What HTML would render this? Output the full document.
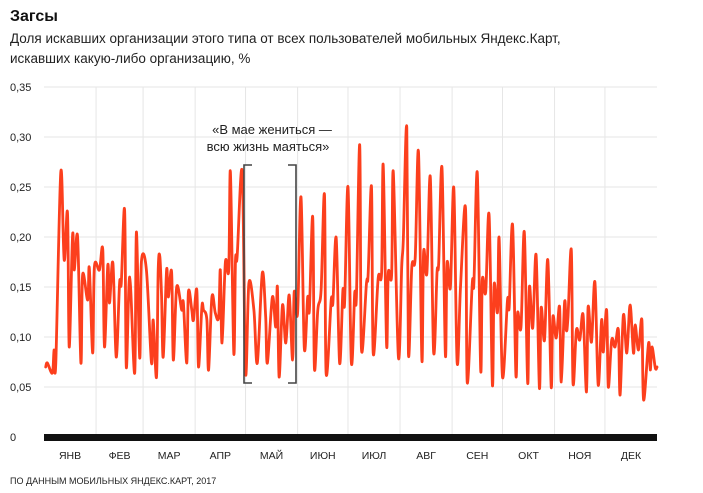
<!DOCTYPE html>
<html><head><meta charset="utf-8"><style>
body{margin:0;background:#fff;width:703px;height:493px;overflow:hidden;font-family:"Liberation Sans",sans-serif}
svg{display:block}
</style></head><body>
<svg id="chart" width="703" height="493" xmlns="http://www.w3.org/2000/svg">
<text x="10" y="21" font-size="16" font-weight="bold" fill="#111">Загсы</text>
<text x="10" y="43" font-size="13.5" fill="#222">Доля искавших организации этого типа от всех пользователей мобильных Яндекс.Карт,</text>
<text x="10" y="63" font-size="13.5" fill="#222">искавших какую-либо организацию, %</text>
<g id="grid"></g>
<g id="axes"></g>
<path id="line" fill="none" stroke="#fc3f1d" stroke-width="2.8" stroke-linejoin="round" stroke-linecap="round"/>
<g>
<text x="272" y="134" font-size="13" fill="#222" text-anchor="middle">«В мае жениться —</text>
<text x="268" y="151" font-size="13" fill="#222" text-anchor="middle">всю жизнь маяться»</text>
<path d="M252,165 H244 V383 H252" fill="none" stroke="#444" stroke-width="1.6"/>
<path d="M288,165 H296 V383 H288" fill="none" stroke="#444" stroke-width="1.6"/>
</g>
<text x="10" y="484" font-size="9" fill="#222">ПО ДАННЫМ МОБИЛЬНЫХ ЯНДЕКС.КАРТ, 2017</text>
</svg>
<script>
const days=[1,2,5,6,7,10,12,14,15,17,18,20,22,23,26,27,29,30,33,35,36,38,39,41,43,45,46,48,49,51,54,55,57,58,61,64,65,67,68,69,70,71,73,74,76,77,79,82,83,85,86,88,89,91,92,94,95,97,98,100,102,104,105,106,108,110,111,113,114,115,118,120,122,125,127,130,132,133,136,138,139,140,142,144,146,148,149,151,153,155,157,158,160,161,163,165,167,168,171,172,174,176,178,179,181,183,185,186,188,189,192,193,195,196,199,201,202,204,205,207,208,211,213,214,216,217,219,221,223,225,226,228,230,232,234,235,237,239,240,242,244,246,248,251,252,255,256,258,260,261,263,265,267,268,270,271,273,276,277,279,281,282,284,286,288,289,291,293,295,296,298,300,302,303,305,307,308,310,311,312,314,315,317,319,321,323,324,326,328,330,332,333,335,336,338,340,342,343,345,347,349,351,352,354,356,357,360,361,362,364,365];
const values=[0.070,0.074,0.064,0.087,0.074,0.265,0.177,0.224,0.090,0.202,0.167,0.200,0.074,0.162,0.137,0.169,0.084,0.170,0.167,0.187,0.090,0.172,0.134,0.174,0.080,0.154,0.154,0.227,0.070,0.160,0.064,0.205,0.079,0.175,0.167,0.074,0.117,0.060,0.167,0.180,0.140,0.080,0.167,0.140,0.165,0.077,0.150,0.127,0.134,0.074,0.145,0.127,0.117,0.147,0.070,0.130,0.127,0.117,0.067,0.140,0.124,0.120,0.167,0.094,0.175,0.167,0.265,0.084,0.177,0.180,0.265,0.064,0.154,0.127,0.074,0.164,0.120,0.074,0.140,0.110,0.150,0.060,0.132,0.094,0.142,0.077,0.145,0.124,0.240,0.089,0.140,0.127,0.220,0.069,0.127,0.147,0.242,0.064,0.137,0.134,0.199,0.074,0.147,0.134,0.250,0.075,0.144,0.140,0.292,0.089,0.154,0.162,0.250,0.084,0.159,0.164,0.272,0.092,0.164,0.162,0.265,0.080,0.170,0.200,0.309,0.084,0.170,0.179,0.285,0.077,0.185,0.164,0.260,0.085,0.164,0.174,0.269,0.082,0.174,0.150,0.249,0.075,0.150,0.229,0.055,0.154,0.154,0.264,0.067,0.157,0.145,0.222,0.052,0.152,0.125,0.199,0.060,0.137,0.130,0.212,0.062,0.124,0.110,0.205,0.054,0.150,0.109,0.182,0.049,0.129,0.097,0.177,0.050,0.120,0.099,0.130,0.055,0.135,0.107,0.120,0.187,0.054,0.107,0.097,0.122,0.045,0.130,0.095,0.155,0.052,0.117,0.085,0.127,0.050,0.097,0.090,0.107,0.042,0.122,0.084,0.132,0.084,0.112,0.087,0.117,0.037,0.094,0.067,0.090,0.069,0.070];
const monthLabels=["ЯНВ","ФЕВ","МАР","АПР","МАЙ","ИЮН","ИЮЛ","АВГ","СЕН","ОКТ","НОЯ","ДЕК"];
const monthDays=[31,28,31,30,31,30,31,31,30,31,30,31];
const yTicks=[0,0.05,0.10,0.15,0.20,0.25,0.30,0.35];
const yTickLabels=["0","0,05","0,10","0,15","0,20","0,25","0,30","0,35"];

const X0=44,X1=657,Y0=437,Y1=87;
const x=d=>X0+d/365*(X1-X0);
const y=v=>Y0-v/0.35*(Y0-Y1);
const NS="http://www.w3.org/2000/svg";
const grid=document.getElementById('grid'),axes=document.getElementById('axes');
function mk(tag,attrs,parent){const e=document.createElementNS(NS,tag);for(const k in attrs)e.setAttribute(k,attrs[k]);parent.appendChild(e);return e;}
yTicks.forEach((t,i)=>{
  if(i>0){const l=mk('line',{x1:X0,x2:X1,y1:y(t),y2:y(t),stroke:'#e6e6e6','stroke-width':1},grid);
  
  }
  const tx=mk('text',{x:10,y:y(t)+4,'font-size':11,fill:'#222'},axes);
  
  
  tx.textContent=yTickLabels[i];
});
let cum=0;
monthDays.forEach((n,i)=>{
  const s=cum;cum+=n;
  if(i<11){const l=mk('line',{x1:x(cum),x2:x(cum),y1:Y1,y2:Y0,stroke:'#e6e6e6','stroke-width':1},grid);
  
  }
  const tx=mk('text',{x:x(s+n/2),y:459,'font-size':10.5,fill:'#222','text-anchor':'middle'},axes);
  
  
  tx.textContent=monthLabels[i];
});
const bar=mk('rect',{x:X0,y:Y0-3,width:X1-X0,height:7,fill:'#111'},axes);


const pts=days.map((dd,i)=>[x(dd),y(values[i])]);
let d='M'+pts[0][0].toFixed(1)+','+pts[0][1].toFixed(1);
for(let i=0;i<pts.length-1;i++){
  const p0=pts[Math.max(0,i-1)],p1=pts[i],p2=pts[i+1],p3=pts[Math.min(pts.length-1,i+2)];
  const t=6;
  const c1=[p1[0]+(p2[0]-p0[0])/t,p1[1]+(p2[1]-p0[1])/t];
  const c2=[p2[0]-(p3[0]-p1[0])/t,p2[1]-(p3[1]-p1[1])/t];
  d+='C'+c1[0].toFixed(1)+','+c1[1].toFixed(1)+' '+c2[0].toFixed(1)+','+c2[1].toFixed(1)+' '+p2[0].toFixed(1)+','+p2[1].toFixed(1);
}
document.getElementById('line').setAttribute('d',d);
</script>
</body></html>
